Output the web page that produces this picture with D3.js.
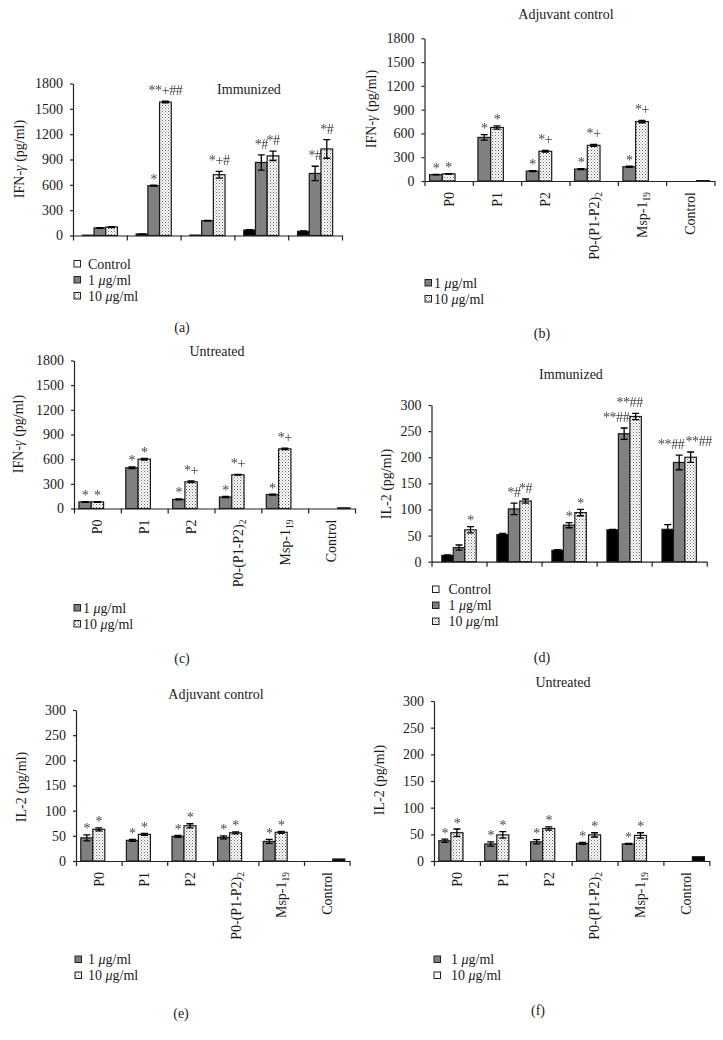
<!DOCTYPE html>
<html>
<head>
<meta charset="utf-8">
<script src="https://cdn.jsdelivr.net/npm/d3@7"></script>
<style>
  body { margin: 0; background: #fff; }
  svg text { font-family: "Liberation Serif", "Times New Roman", serif; fill: #1a1a1a; }
</style>
</head>
<body>
<div id="fig"></div>
<script>
// categories
const immGroups = ["G1", "G2", "G3", "G4", "G5"];
const peptideNames = ["P0", "P1", "P2", "P0-(P1-P2)", "Msp-1", "Control"];
const peptideSubs = ["", "", "", "2", "19", ""];
const ifnTicks = [0, 300, 600, 900, 1200, 1500, 1800];
const il2Ticks = [0, 50, 100, 150, 200, 250, 300];

// (a) IFN-γ, immunized
const aCtl = [4, 18, 5, 65, 50];
const aLow = [90, 590, 175, 865, 735];
const aHigh = [100, 1580, 720, 943, 1025];
const aCtlErr = [0, 2, 0, 5, 4];
const aLowErr = [4, 6, 4, 90, 85];
const aHighErr = [5, 10, 40, 55, 110];
const aLowMarks = ["", "*", "", "*#", "*#"];
const aHighMarks = ["", "**+##", "*+#", "*#", "*#"];

// (b) IFN-γ, adjuvant control
const bLow = [80, 550, 125, 150, 180, 0];
const bHigh = [90, 675, 375, 450, 750, 0];
const bCtl = [0, 0, 0, 0, 0, 5];
const bLowErr = [3, 35, 5, 5, 8, 0];
const bHighErr = [3, 20, 10, 12, 15, 0];
const bLowMarks = ["*", "*", "*", "*", "*", ""];
const bHighMarks = ["*", "*", "*+", "*+", "*+", ""];

// (c) IFN-γ, untreated
const cLow = [80, 495, 110, 140, 170, 0];
const cHigh = [80, 600, 325, 410, 725, 0];
const cCtl = [0, 0, 0, 0, 0, 8];
const cLowErr = [4, 10, 6, 6, 6, 0];
const cHighErr = [4, 10, 10, 5, 10, 0];
const cLowMarks = ["*", "*", "*", "*", "*", ""];
const cHighMarks = ["*", "*", "*+", "*+", "*+", ""];

// (d) IL-2, immunized
const dCtl = [12, 52, 22, 61, 62];
const dLow = [27, 101, 70, 245, 190];
const dHigh = [61, 116, 94, 278, 200];
const dCtlErr = [1, 2, 1, 1, 9];
const dLowErr = [5, 11, 5, 11, 14];
const dHighErr = [6, 4, 6, 6, 10];
const dLowMarks = ["", "*#", "*", "**##", "**##"];
const dHighMarks = ["*", "*#", "*", "**##", "**##"];

// (e) IL-2, adjuvant control
const eLow = [46, 41, 49, 47, 39, 0];
const eHigh = [63, 53, 70, 56, 57, 0];
const eCtl = [0, 0, 0, 0, 0, 4];
const eLowErr = [6, 2, 2, 3, 4, 0];
const eHighErr = [3, 2, 4, 2, 2, 0];
const eMarks = ["*", "*", "*", "*", "*", ""];

// (f) IL-2, untreated
const fLow = [38, 32, 36, 33, 32, 0];
const fHigh = [53, 49, 61, 49, 48, 0];
const fCtl = [0, 0, 0, 0, 0, 8];
const fLowErr = [3, 4, 4, 2, 1, 0];
const fHighErr = [7, 6, 3, 4, 5, 0];
const fMarks = ["*", "*", "*", "*", "*", ""];

const svg = d3.select("#fig").append("svg")
  .attr("width", 723)
  .attr("height", 1040);

const defs = svg.append("defs");
const pat = defs.append("pattern")
  .attr("id", "dots")
  .attr("patternUnits", "userSpaceOnUse")
  .attr("width", 3)
  .attr("height", 3);
pat.append("rect").attr("width", 3).attr("height", 3).attr("fill", "#fff");
pat.append("rect").attr("x", 0).attr("y", 0).attr("width", 1).attr("height", 1).attr("fill", "#666");
pat.append("rect").attr("x", 1.5).attr("y", 1.5).attr("width", 1).attr("height", 1).attr("fill", "#888");

// grey antialiasing for the small significance marks
defs.append("filter").attr("id", "grey")
  .append("feColorMatrix").attr("type", "saturate").attr("values", 0);

const fills = { ctl: "#000", low: "#808080", high: "url(#dots)", white: "#fff" };

function concLabel(t, dose) {
  t.append("tspan").text(dose + " ");
  t.append("tspan").attr("font-style", "italic").text("\u03bc");
  t.append("tspan").text("g/ml");
}

function drawPanel(cfg) {
  const g = svg.append("g");
  const nCat = cfg.cats.length;
  const x = d3.scaleBand().domain(cfg.cats).range([cfg.x0, cfg.x1]);
  const y = d3.scaleLinear().domain([0, cfg.yMax]).range([cfg.y0, cfg.y1]);
  const n = cfg.series.length;
  const bw = x.bandwidth() / (n + cfg.gap);
  const xs = d3.scaleBand().domain(d3.range(n))
    .range([bw * cfg.gap / 2, bw * cfg.gap / 2 + bw * n]);
  const shift = cfg.markShift || {};
  const marksG = g.append("g").attr("filter", "url(#grey)");

  // bars
  cfg.series.forEach((s, si) => {
    const rows = s.values.map((v, i) => ({ v, i, e: s.errors[i], m: s.marks ? s.marks[i] : "", c: cfg.cats[i] }))
      .filter(d => d.v > 0);
    g.selectAll(null).data(rows).enter().append("rect")
      .attr("x", d => x(d.c) + xs(si))
      .attr("y", d => y(d.v))
      .attr("width", bw)
      .attr("height", d => cfg.y0 - y(d.v))
      .attr("fill", fills[s.fill])
      .attr("stroke", "#1a1a1a")
      .attr("stroke-width", 1.2);

    const eb = rows.filter(d => d.e > 0);
    const cx = d => x(d.c) + xs(si) + bw / 2;
    g.selectAll(null).data(eb).enter().append("path")
      .attr("d", d => {
        const t = y(d.v + d.e), b = y(d.v - d.e), c = cx(d);
        return `M${c},${t}V${b}M${c - 3.5},${t}H${c + 3.5}M${c - 3.5},${b}H${c + 3.5}`;
      })
      .attr("fill", "none")
      .attr("stroke", "#000")
      .attr("stroke-width", 1.3);

    marksG.selectAll(null).data(rows.filter(d => d.m)).enter().append("text")
      .attr("x", d => cx(d) + (shift[si + "-" + d.i] || 0))
      .attr("y", d => y(d.v + d.e) - (/[#+]/.test(d.m) ? 6 : 1.5))
      .attr("text-anchor", "middle")
      .attr("font-size", 14)
      .attr("letter-spacing", -0.4)
      .style("fill", "#444")
      .text(d => d.m);
  });

  // y axis
  const ya = g.append("g")
    .attr("transform", `translate(${cfg.x0},0)`)
    .call(d3.axisLeft(y).tickValues(cfg.ticks).tickFormat(d3.format("d"))
      .tickSize(3).tickSizeOuter(0).tickPadding(7));
  ya.attr("font-family", null).attr("font-size", null);
  ya.selectAll("text").attr("font-size", 14);
  ya.selectAll("path, line").attr("stroke", "#222").attr("stroke-width", 1.2);

  // x axis with boundary ticks
  const xb = d3.scaleLinear().domain([0, nCat]).range([cfg.x0, cfg.x1]);
  const xa = g.append("g")
    .attr("transform", `translate(0,${cfg.y0})`)
    .call(d3.axisBottom(xb).tickValues(d3.range(nCat + 1)).tickFormat("").tickSize(5).tickSizeOuter(0));
  xa.selectAll("path, line").attr("stroke", "#222").attr("stroke-width", 1.2);

  // category labels
  if (cfg.names) {
    const la = g.append("g")
      .attr("transform", `translate(0,${cfg.y0})`)
      .call(d3.axisBottom(x).tickSize(0));
    la.select(".domain").remove();
    la.attr("font-family", null).attr("font-size", null);
    la.selectAll("text")
      .attr("transform", "rotate(-90)")
      .attr("text-anchor", "end")
      .attr("x", -11)
      .attr("y", 0)
      .attr("dy", "0.35em")
      .attr("font-size", 14)
      .text(null)
      .each(function (d, i) {
        const t = d3.select(this);
        t.append("tspan").text(cfg.names[i]);
        if (cfg.subs[i]) t.append("tspan").attr("dy", 3).attr("font-size", 9.5).text(cfg.subs[i]);
      });
  }

  // y label
  const yl = g.append("text")
    .attr("transform", `translate(${cfg.ylab[0]},${cfg.ylab[1]}) rotate(-90)`)
    .attr("text-anchor", "middle")
    .attr("dy", "0.35em")
    .attr("font-size", 14);
  if (cfg.cytokine === "IFN") {
    yl.append("tspan").text("IFN-");
    yl.append("tspan").attr("font-style", "italic").text("\u03b3");
    yl.append("tspan").text(" (pg/ml)");
  } else {
    yl.text("IL-2 (pg/ml)");
  }

  // title
  g.append("text")
    .attr("x", cfg.title[1])
    .attr("y", cfg.title[2])
    .attr("text-anchor", "middle")
    .attr("font-size", 14)
    .text(cfg.title[0]);

  // legend
  cfg.legend.forEach((it, k) => {
    const by = cfg.leg[1] + k * 16;
    g.append("rect")
      .attr("x", cfg.leg[0])
      .attr("y", by - 8)
      .attr("width", 6.5)
      .attr("height", 6.5)
      .attr("fill", fills[it.fill])
      .attr("stroke", "#222")
      .attr("stroke-width", 1);
    const t = g.append("text")
      .attr("x", cfg.leg[0] + cfg.leg[2])
      .attr("y", by)
      .attr("font-size", 14);
    if (it.dose) concLabel(t, it.dose); else t.text(it.label);
  });

  // panel letter
  g.append("text")
    .attr("x", cfg.letter[1])
    .attr("y", cfg.letter[2])
    .attr("text-anchor", "middle")
    .attr("font-size", 14)
    .text(cfg.letter[0]);
}

const legImm = [{ label: "Control", fill: "white" }, { dose: "1", fill: "low" }, { dose: "10", fill: "high" }];
const legTwo = [{ dose: "1", fill: "low" }, { dose: "10", fill: "high" }];

drawPanel({
  cats: immGroups, x0: 73, x1: 342, y0: 235.5, y1: 83.5, yMax: 1800, ticks: ifnTicks, gap: 1.6,
  series: [
    { values: aCtl, errors: aCtlErr, fill: "ctl" },
    { values: aLow, errors: aLowErr, marks: aLowMarks, fill: "low" },
    { values: aHigh, errors: aHighErr, marks: aHighMarks, fill: "high" }
  ],
  cytokine: "IFN", ylab: [19, 159], title: ["Immunized", 249, 94],
  legend: legImm, leg: [74, 268.5, 14], letter: ["(a)", 182, 332]
});

drawPanel({
  cats: peptideNames, names: peptideNames, subs: peptideSubs,
  x0: 424.5, x1: 714.5, y0: 181, y1: 38.3, yMax: 1800, ticks: ifnTicks, gap: 0.8,
  series: [
    { values: bLow, errors: bLowErr, marks: bLowMarks, fill: "low" },
    { values: bHigh, errors: bHighErr, marks: bHighMarks, fill: "high" },
    { values: bCtl, errors: [0, 0, 0, 0, 0, 0], fill: "ctl" }
  ],
  cytokine: "IFN", ylab: [371, 109], title: ["Adjuvant control", 566, 19],
  legend: legTwo, leg: [425, 287.5, 9], letter: ["(b)", 542, 338]
});

drawPanel({
  cats: peptideNames, names: peptideNames, subs: peptideSubs,
  x0: 74, x1: 355, y0: 508.5, y1: 360.5, yMax: 1800, ticks: ifnTicks, gap: 0.8,
  series: [
    { values: cLow, errors: cLowErr, marks: cLowMarks, fill: "low" },
    { values: cHigh, errors: cHighErr, marks: cHighMarks, fill: "high" },
    { values: cCtl, errors: [0, 0, 0, 0, 0, 0], fill: "ctl" }
  ],
  cytokine: "IFN", ylab: [18, 434], title: ["Untreated", 217, 356],
  legend: legTwo, leg: [74, 612.5, 9], letter: ["(c)", 182, 663]
});

drawPanel({
  cats: immGroups, x0: 431.5, x1: 706.7, y0: 561.7, y1: 405, yMax: 300, ticks: il2Ticks, gap: 1.8,
  series: [
    { values: dCtl, errors: dCtlErr, fill: "ctl" },
    { values: dLow, errors: dLowErr, marks: dLowMarks, fill: "low" },
    { values: dHigh, errors: dHighErr, marks: dHighMarks, fill: "high" }
  ],
  markShift: { "1-3": -8, "2-3": -6, "1-4": -8, "2-4": 8 },
  cytokine: "IL", ylab: [386, 484], title: ["Immunized", 571, 379],
  legend: legImm, leg: [432.5, 594, 16], letter: ["(d)", 542, 662]
});

drawPanel({
  cats: peptideNames, names: peptideNames, subs: peptideSubs,
  x0: 76, x1: 349.6, y0: 861, y1: 710, yMax: 300, ticks: il2Ticks, gap: 0.8,
  series: [
    { values: eLow, errors: eLowErr, marks: eMarks, fill: "low" },
    { values: eHigh, errors: eHighErr, marks: eMarks, fill: "high" },
    { values: eCtl, errors: [0, 0, 0, 0, 0, 0], fill: "ctl" }
  ],
  cytokine: "IL", ylab: [21, 787], title: ["Adjuvant control", 216, 699],
  legend: legTwo, leg: [75, 964, 13], letter: ["(e)", 181, 1018]
});

drawPanel({
  cats: peptideNames, names: peptideNames, subs: peptideSubs,
  x0: 434, x1: 709.3, y0: 861, y1: 701, yMax: 300, ticks: il2Ticks, gap: 0.8,
  series: [
    { values: fLow, errors: fLowErr, marks: fMarks, fill: "low" },
    { values: fHigh, errors: fHighErr, marks: fMarks, fill: "high" },
    { values: fCtl, errors: [0, 0, 0, 0, 0, 0], fill: "ctl" }
  ],
  cytokine: "IL", ylab: [379, 780], title: ["Untreated", 563, 687],
  legend: [{ dose: "1", fill: "low" }, { dose: "10", fill: "white" }], leg: [434, 964, 17], letter: ["(f)", 538, 1015]
});
</script>
</body>
</html>
